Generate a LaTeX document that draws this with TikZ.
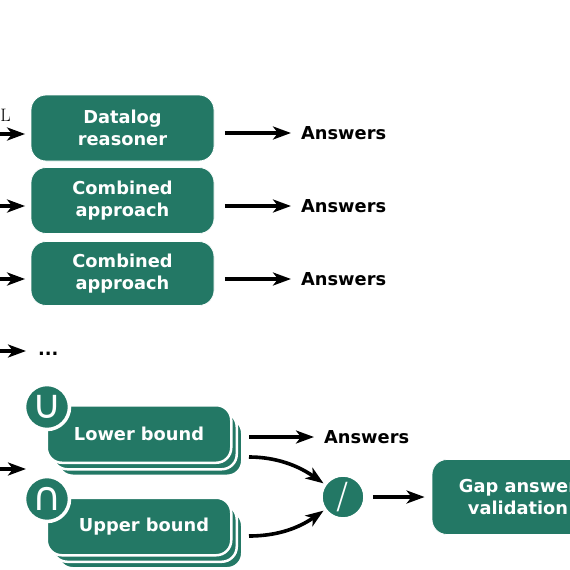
\documentclass[tikz,border=0pt]{standalone}
\usepackage{fontspec}
\setmainfont{DejaVu Sans}
\newfontfamily\thinfont{DejaVu Sans ExtraLight}
\usepackage{xcolor}
\usetikzlibrary{calc,arrows.meta,positioning}
\definecolor{reasonerGreen}{RGB}{35,120,101}
\newcommand{\boldlabel}{\fontsize{17.8}{22.5}\selectfont\bfseries}
\tikzset{
    reasoner/.style={rectangle, rounded corners=15pt, fill=reasonerGreen, draw=white, line width=0.8pt,
        minimum width=183pt, inner sep=0pt, align=center, text=white, font=\boldlabel},
    bound/.style={reasoner, line width=2.5pt, minimum width=184.5pt, minimum height=57.5pt},
    opcircle/.style={circle, fill=reasonerGreen, draw=white, line width=3.5pt, minimum size=45pt,
        inner sep=0pt, text=white},
    answer/.style={anchor=west, inner sep=0pt, font=\boldlabel},
    flow/.style={black, line width=3.6pt, -{Stealth[length=18pt,width=13pt,inset=5pt]}},
}
\begin{document}
\begin{tikzpicture}[x=1pt,y=-1pt]
    \useasboundingbox (0,0) rectangle (570,570);

    % reasoner boxes
    \node[reasoner, minimum height=66pt] (datalog) at (122.5,128) {Datalog\\reasoner};
    \node[reasoner, minimum height=66pt] (combinedA) at (122.5,200.5) {Combined\\approach};
    \node[reasoner, minimum height=64pt] (combinedB) at (122.5,273.5) {Combined\\approach};

    % stacked bound boxes
    \node[bound] at (150,447) {};
    \node[bound] at (144.5,440.5) {};
    \node[bound] (lower) at (139,434) {Lower bound};
    \node[bound] at (150,539.5) {};
    \node[bound] at (144.5,533) {};
    \node[bound] (upper) at (139,526.5) {\hspace{10pt}Upper bound};
    \node[opcircle, font=\fontsize{40}{40}\selectfont] (union) at (47,407) {∪};
    \node[opcircle, font=\fontsize{40}{40}\selectfont] (inter) at (47,499) {∩};

    % gap validation
    \node[opcircle, minimum size=44pt, font=\thinfont\fontsize{36}{36}\selectfont] (minus) at (343,497) {/};
    \node[reasoner, minimum width=172pt, minimum height=75pt] (gap) at (518,497) {Gap answer\\validation};

    % answers
    \node[answer] (ansA) at (301,133) {Answers};
    \node[answer] (ansB) at (301,206) {Answers};
    \node[answer] (ansC) at (301,279) {Answers};
    \node[answer] (ansD) at (324,437) {Answers};
    \node[answer] (dots) at (38,354) {...};
    \node[anchor=east, inner sep=0pt, font=\fontfamily{lmr}\fontsize{18}{18}\selectfont] (input) at (11,115) {L};

    % free ends on the left
    \coordinate (inA) at (-8,134);
    \coordinate (inB) at (-8,206);
    \coordinate (inC) at (-8,279);
    \coordinate (inD) at (-8,351);
    \coordinate (inE) at (-8,469);
    \coordinate (outE) at (26,469);

    % arrows in
    \draw[flow, shorten >=5.5pt] (inA) -- (datalog.west |- inA);
    \draw[flow, shorten >=5.5pt] (inB) -- (combinedA.west |- inB);
    \draw[flow, shorten >=5.5pt] (inC) -- (combinedB.west |- inC);
    \draw[flow, shorten >=12pt] (inD) -- (dots.west |- inD);
    \draw[flow] (inE) -- (outE);

    % arrows out
    \draw[flow, shorten <=10.5pt, shorten >=10pt] (datalog.east |- ansA) -- (ansA.west);
    \draw[flow, shorten <=10.5pt, shorten >=10pt] (combinedA.east |- ansB) -- (ansB.west);
    \draw[flow, shorten <=10.5pt, shorten >=10pt] (combinedB.east |- ansC) -- (ansC.west);
    \draw[flow, shorten <=16.5pt, shorten >=10pt] (lower.east |- ansD) -- (ansD.west);
    \draw[flow, shorten <=16.5pt] ($(lower.east)+(0,23)$) to[out=0,in=145] (minus.145);
    \draw[flow, shorten <=16.5pt] ($(upper.east)+(0,9.5)$) to[out=0,in=-145] (minus.215);
    \draw[flow, shorten <=6pt, shorten >=7pt] (minus.east) -- (gap.west);
\end{tikzpicture}
\end{document}
